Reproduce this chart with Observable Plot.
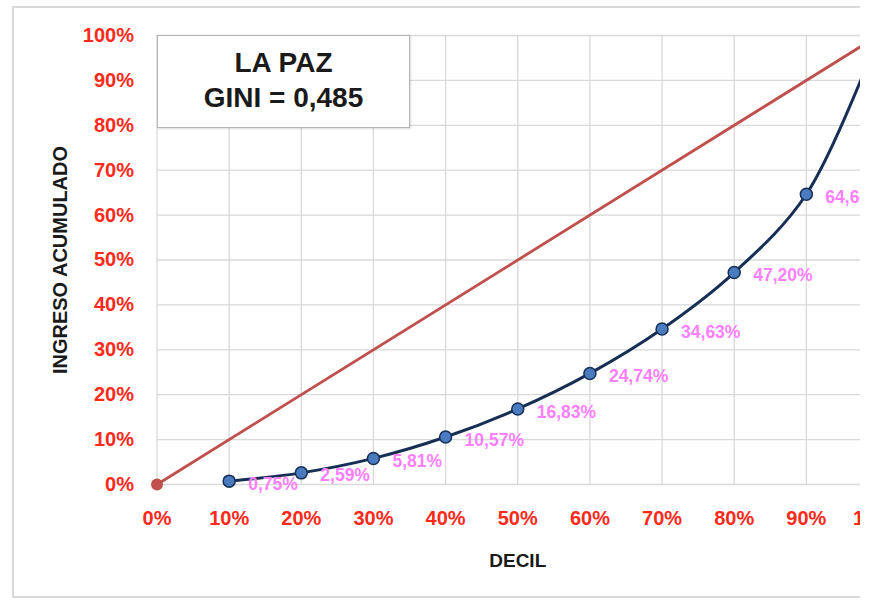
<!DOCTYPE html>
<html>
<head>
<meta charset="utf-8">
<script src="https://cdn.jsdelivr.net/npm/d3@7"></script>
<script src="https://cdn.jsdelivr.net/npm/@observablehq/plot@0.6"></script>
<style>
  html, body { margin: 0; padding: 0; background: #fff; }
  #clip { position: absolute; left: 0; top: 0; width: 860px; height: 604px; overflow: hidden; }
  #frame { position: absolute; left: 12px; top: 6px; width: 900px; height: 592px; border: 2px solid #d9d9d9; box-sizing: border-box; }
  #chart { position: absolute; left: 0; top: 0; }
  #titlebox {
    position: absolute; left: 157px; top: 35px; width: 253px; height: 93px; box-sizing: border-box;
    border: 1.5px solid #b3b3b3; background: #fff; box-shadow: 1px 1px 2px rgba(0,0,0,0.15);
    font-family: "Liberation Sans", Arial, sans-serif; font-weight: bold; font-size: 28px; color: #1a1a1a;
    text-align: center; line-height: 35px; padding-top: 9px;
  }
</style>
</head>
<body>
<div id="clip">
  <div id="frame"></div>
  <div id="chart"></div>
  <div id="titlebox">LA PAZ<br>GINI = 0,485</div>
</div>
<script>
// Data
const title = "LA PAZ";
const gini = "0,485";
const deciles = [0.1, 0.2, 0.3, 0.4, 0.5, 0.6, 0.7, 0.8, 0.9, 1.0];
const ingresoAcumulado = [0.75, 2.59, 5.81, 10.57, 16.83, 24.74, 34.63, 47.20, 64.64, 100];
const equalityX = [0, 1];
const equalityY = [0, 100];
const tickValues = [0, 0.1, 0.2, 0.3, 0.4, 0.5, 0.6, 0.7, 0.8, 0.9, 1.0];

const lorenz = deciles.map((d, i) => ({x: d, y: ingresoAcumulado[i] / 100, label: ingresoAcumulado[i].toFixed(2).replace(".", ",") + "%"}));
const equality = equalityX.map((d, i) => ({x: d, y: equalityY[i] / 100}));

const pct = d => Math.round(d * 100) + "%";
const labelFont = "Liberation Sans, Arial, sans-serif";

const chart = Plot.plot({
  width: 860,
  height: 604,
  marginLeft: 156.5,
  marginRight: -18,
  marginTop: 35,
  marginBottom: 120,
  style: { fontFamily: labelFont, background: "transparent", overflow: "hidden" },
  x: { domain: [0, 1] },
  y: { domain: [0, 1] },
  marks: [
    Plot.gridX(tickValues, { stroke: "#d9d9d9", strokeOpacity: 1, strokeWidth: 1.3 }),
    Plot.gridY(tickValues, { stroke: "#d9d9d9", strokeOpacity: 1, strokeWidth: 1.3 }),
    Plot.axisX(tickValues, {
      tickSize: 0, tickPadding: 26, tickFormat: pct,
      fill: "#ff2a1a", fontWeight: "bold", fontSize: 20,
      label: null
    }),
    Plot.axisX({ ticks: [], label: "DECIL", labelAnchor: "center", labelOffset: 82, labelArrow: "none", fill: "#1a1a1a", fontWeight: "bold", fontSize: 19 }),
    Plot.axisY(tickValues, {
      tickSize: 0, tickPadding: 23, tickFormat: pct,
      fill: "#ff2a1a", fontWeight: "bold", fontSize: 20,
      label: null
    }),
    Plot.axisY({ ticks: [], label: "INGRESO ACUMULADO", labelAnchor: "center", labelOffset: 104, labelArrow: "none", fill: "#1a1a1a", fontWeight: "bold", fontSize: 20 }),
    Plot.lineY(equality, { x: "x", y: "y", stroke: "#c0504d", strokeWidth: 2.8 }),
    Plot.dot(equality, { x: "x", y: "y", r: 6, fill: "#c0504d" }),
    Plot.lineY(lorenz, { x: "x", y: "y", stroke: "#172f55", strokeWidth: 3, curve: "catmull-rom" }),
    Plot.dot(lorenz, { x: "x", y: "y", r: 6, fill: "#4a7bbf", stroke: "#172f55", strokeWidth: 1.5 }),
    Plot.text(lorenz, { x: "x", y: "y", text: "label", textAnchor: "start", dx: 19, dy: 3, fill: "#ff80ff", fontWeight: "bold", fontSize: 17.5 })
  ]
});
document.getElementById("chart").appendChild(chart);
</script>
</body>
</html>
